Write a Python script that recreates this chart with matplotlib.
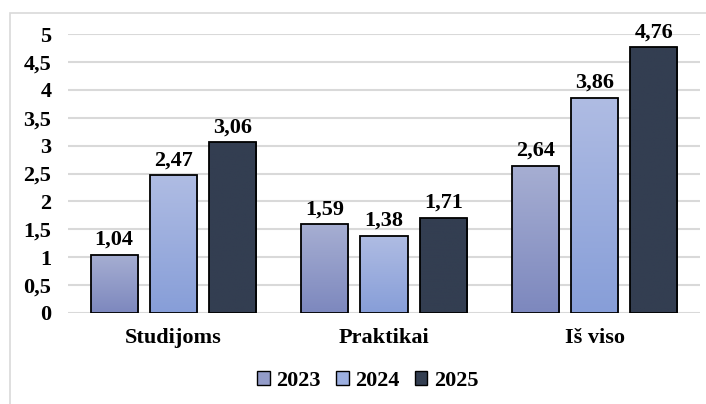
import numpy as np
import matplotlib.pyplot as plt
from matplotlib.colors import LinearSegmentedColormap
from matplotlib.patches import Rectangle, Patch

categories = ['Studijoms', 'Praktikai', 'Iš viso']
years = ['2023', '2024', '2025']
values_2023 = [1.04, 1.59, 2.64]
values_2024 = [2.47, 1.38, 3.86]
values_2025 = [3.06, 1.71, 4.76]
y_ticks = [0, 0.5, 1, 1.5, 2, 2.5, 3, 3.5, 4, 4.5, 5]

# top colour, bottom colour for each series (gradient fill)
colors = [('#a6aed2', '#7d88be'), ('#afbce3', '#879ed8'), ('#333e51', '#333e51')]
legend_colors = ['#939cc9', '#9cafe0', '#333e51']

plt.rcParams['font.family'] = ['Liberation Serif', 'DejaVu Serif']
plt.rcParams['font.weight'] = 'bold'
fs = 16

fig = plt.figure(figsize=(7.06, 4.04), dpi=100)
ax = fig.add_axes([68 / 706, 91 / 404, 632 / 706, 279 / 404])

# light frame round the chart area
fig.patches.append(Rectangle((10 / 706, -0.1), 1.2, (404 - 13) / 404 + 0.1,
                             transform=fig.transFigure, fill=False,
                             edgecolor='#d9d9d9', linewidth=1.2))

x = np.arange(len(categories))
width = 0.224
step = 0.281

for i, vals in enumerate([values_2023, values_2024, values_2025]):
    pos = x + (i - 1) * step
    bars = ax.bar(pos, vals, width, color='none', edgecolor='black',
                  linewidth=1.3, zorder=3)
    cmap = LinearSegmentedColormap.from_list('g', [colors[i][1], colors[i][0]])
    for bar, v in zip(bars, vals):
        grad = np.linspace(0, 1, 100).reshape(-1, 1)
        x0 = bar.get_x()
        im = ax.imshow(grad, cmap=cmap, aspect='auto', origin='lower',
                       extent=[x0, x0 + width, 0, v], zorder=2)
        im.set_clip_path(bar)
        ax.text(bar.get_x() + width / 2, v + 0.09, f'{v:.2f}'.replace('.', ','),
                ha='center', va='bottom', fontsize=fs, fontweight='bold')

ax.set_xlim(-0.5, 2.5)
ax.set_ylim(0, 5)
ax.set_yticks(y_ticks)
ax.set_yticklabels([str(t).replace('.0', '').replace('.', ',') for t in y_ticks],
                   fontsize=fs, fontweight='bold')
ax.set_xticks(x)
ax.set_xticklabels(categories, fontsize=fs, fontweight='bold')
ax.tick_params(axis='both', length=0)
ax.tick_params(axis='y', pad=12)
ax.tick_params(axis='x', pad=11)
ax.grid(axis='y', color='#d9d9d9', linewidth=1.5, zorder=0)
ax.set_axisbelow(True)
for s in ax.spines.values():
    s.set_visible(False)

handles = [Patch(facecolor=c, edgecolor='black', linewidth=1.0) for c in legend_colors]
fig.legend(handles, years, loc='center', bbox_to_anchor=(368 / 706, 1 - 381 / 404),
           ncol=3, frameon=False, handlelength=0.55, handleheight=0.55,
           handletextpad=0.3, columnspacing=0.7, prop={'weight': 'bold', 'size': fs})

fig.savefig('out.png', dpi=100)
